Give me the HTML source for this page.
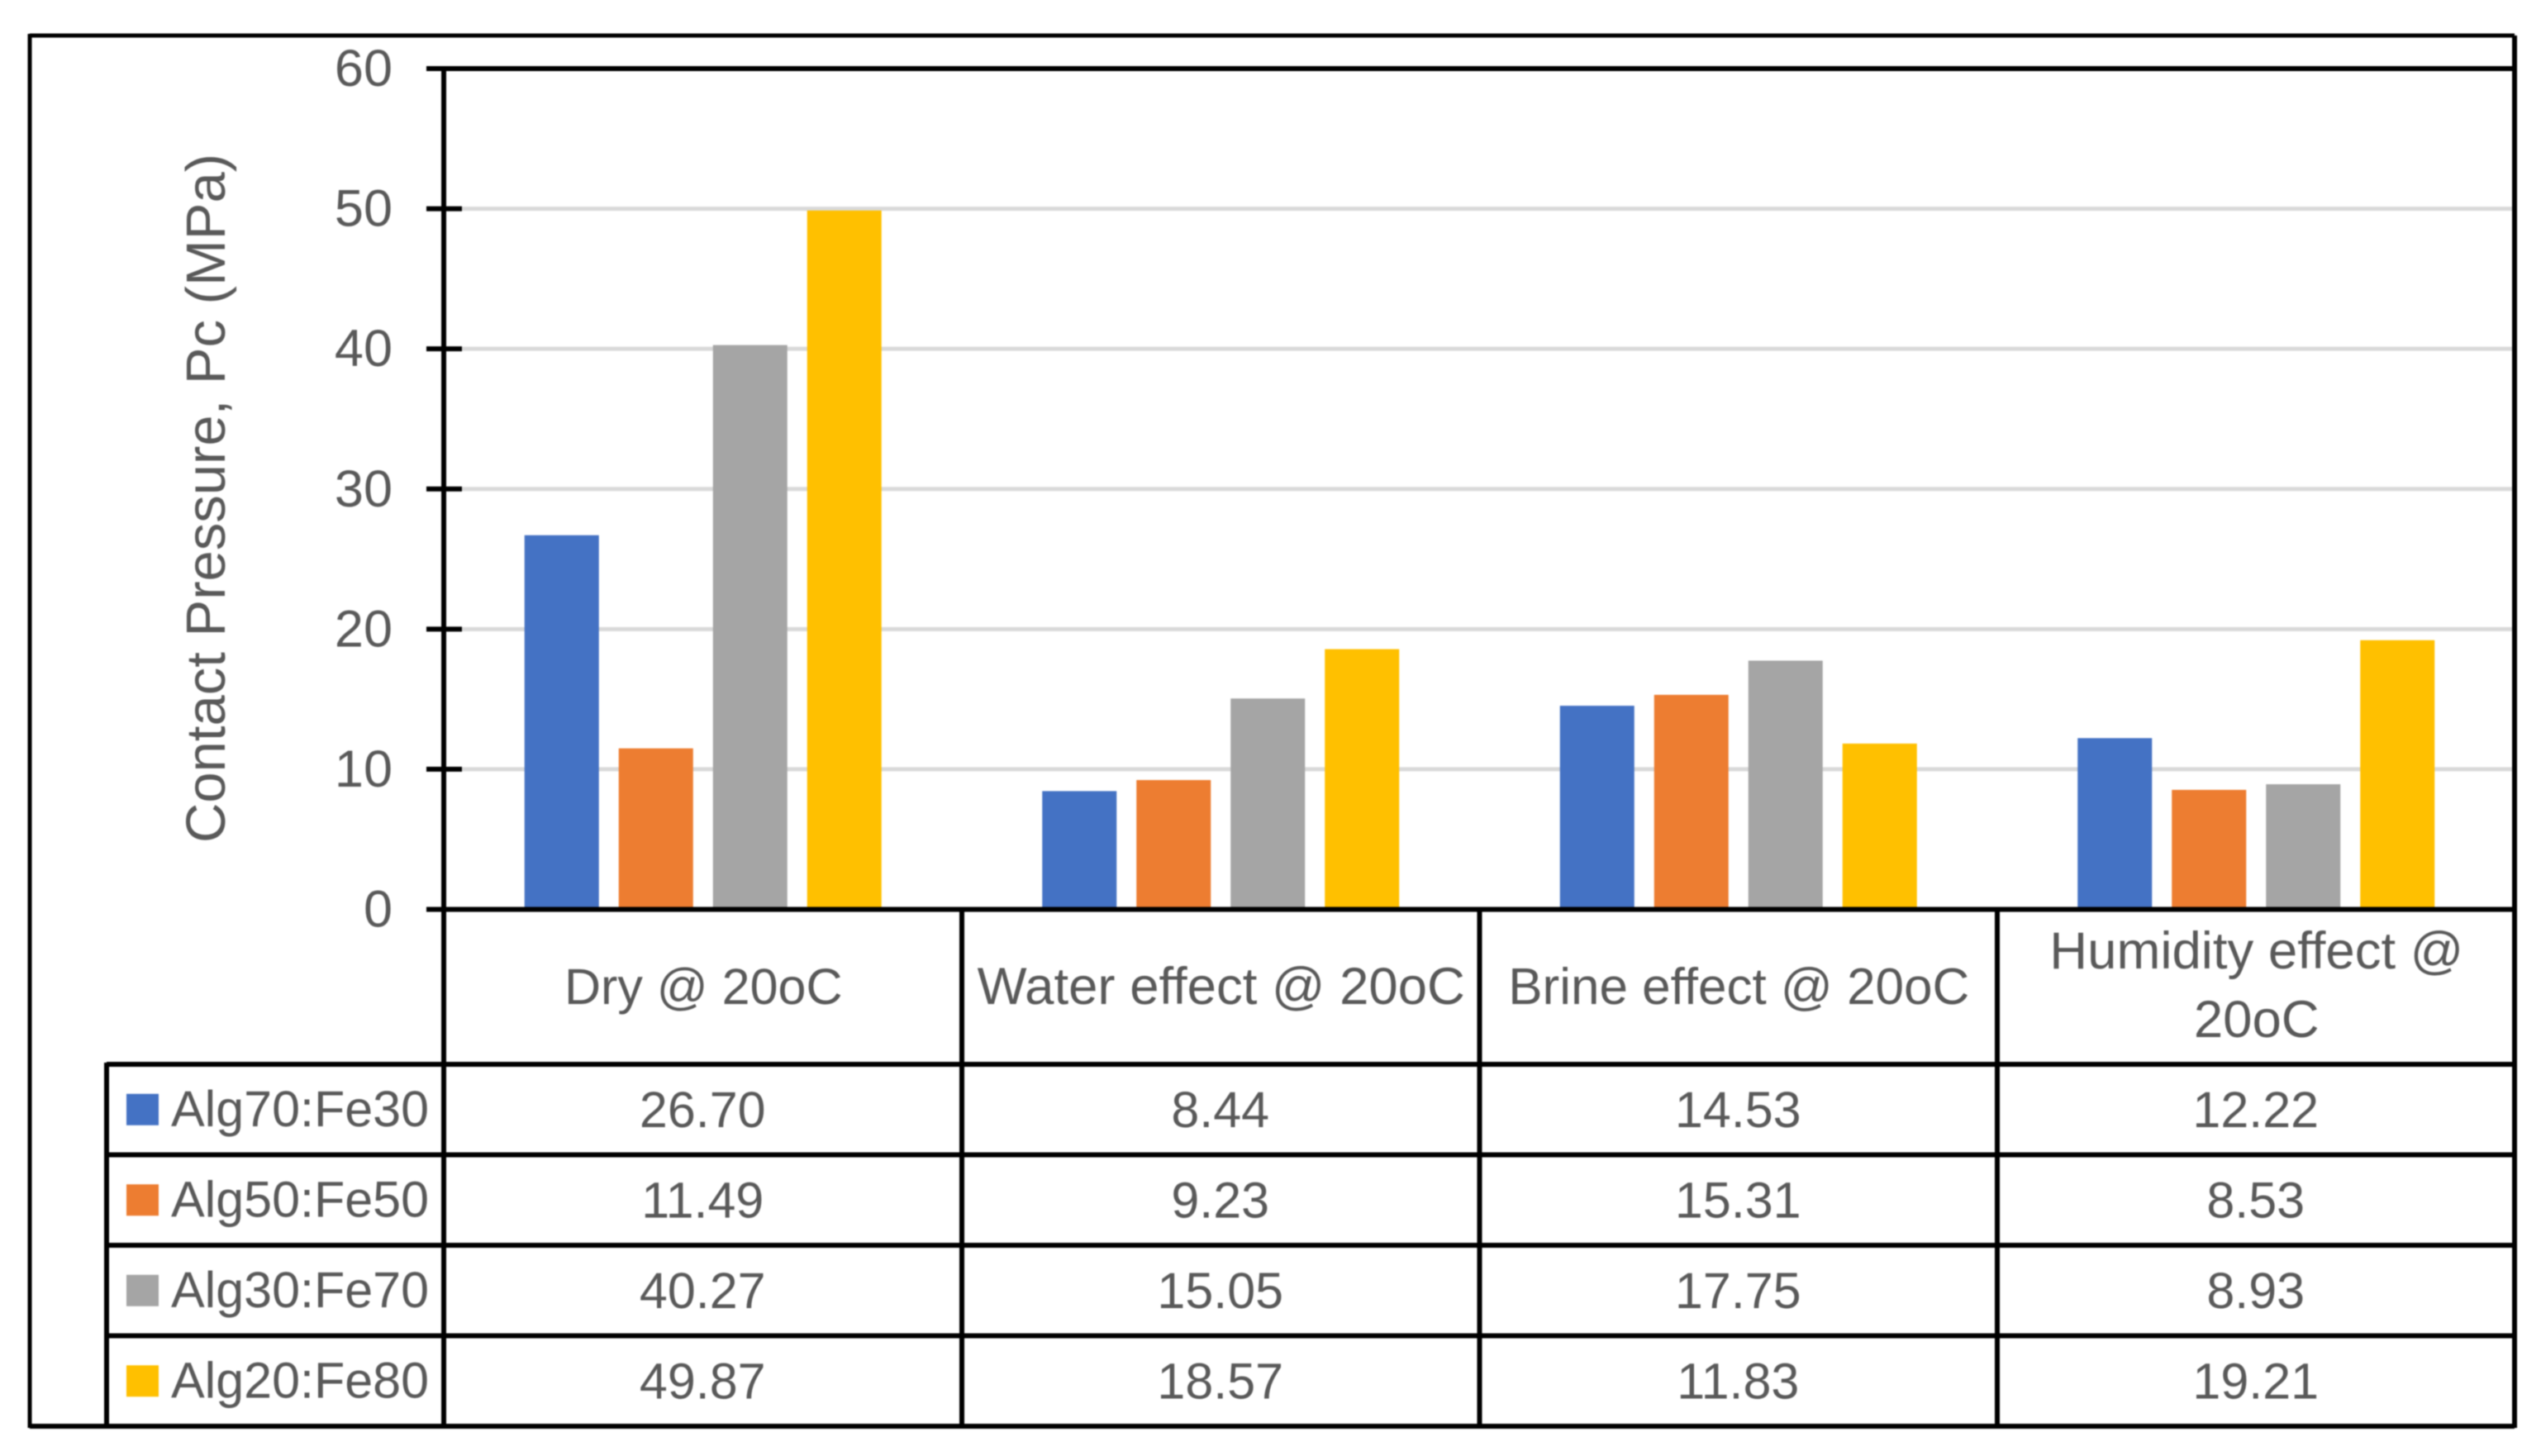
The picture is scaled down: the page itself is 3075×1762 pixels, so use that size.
<!DOCTYPE html>
<html>
<head>
<meta charset="utf-8">
<title>Contact Pressure chart</title>
<style>
html,body{margin:0;padding:0;background:#fff;}
svg{display:block;filter:blur(0.7px);}
text{font-family:"Liberation Sans",sans-serif;fill:#595959;}
</style>
</head>
<body>
<svg id="chart" xmlns="http://www.w3.org/2000/svg" width="3075" height="1762" viewBox="0 0 3075 1762"></svg>
<script>
const categories = [["Dry @ 20oC"], ["Water effect @ 20oC"], ["Brine effect @ 20oC"], ["Humidity effect @", "20oC"]];
const seriesNames = ["Alg70:Fe30", "Alg50:Fe50", "Alg30:Fe70", "Alg20:Fe80"];
const seriesColors = ["#4472c4", "#ed7d31", "#a5a5a5", "#ffc000"];
const alg70 = [26.70, 8.44, 14.53, 12.22];
const alg50 = [11.49, 9.23, 15.31, 8.53];
const alg30 = [40.27, 15.05, 17.75, 8.93];
const alg20 = [49.87, 18.57, 11.83, 19.21];
const yTicks = [0, 10, 20, 30, 40, 50, 60];
const yTitle = "Contact Pressure, Pc (MPa)";

const seriesValues = [alg70, alg50, alg30, alg20];
const svg = document.getElementById('chart');
const NS = 'http://www.w3.org/2000/svg';
const plotL = 537, plotR = 3043, plotT = 83, plotB = 1100.5;
const tableL = 129, frameL = 36, frameT = 43, frameB = 1726;
const rowTop = 1288, rowH = (frameB - rowTop) / seriesNames.length;
const catW = (plotR - plotL) / categories.length;
const barW = 90, barGap = 24;
const fontSize = 61;
const lineW = 6;

function y(v) { return plotB - (v / 60) * (plotB - plotT); }
function catX(i) { return plotL + i * catW; }
function barX(c, s) {
  const total = seriesNames.length * barW + (seriesNames.length - 1) * barGap;
  return catX(c) + (catW - total) / 2 + s * (barW + barGap) + 0.5;
}
function make(tag, attrs, parent) {
  const el = document.createElementNS(NS, tag);
  for (const k in attrs) el.setAttribute(k, attrs[k]);
  (parent || svg).appendChild(el);
  return el;
}
function line(x1, y1, x2, y2, stroke, w, name) {
  const el = make('line', { x1, y1, x2, y2, stroke, 'stroke-width': w });
  
  
  return el;
}
function label(str, x, yy, anchor, name, size) {
  const el = make('text', { x, y: yy, 'text-anchor': anchor, 'font-size': size || fontSize });
  el.textContent = str;
  
  
  return el;
}

/* gridlines */
yTicks.forEach(function (t) {
  if (t === 0 || t === 60) return;
  line(plotL, y(t), plotR, y(t), '#d9d9d9', 5, 'gridline-' + t);
});

/* bars */
seriesValues.forEach(function (vals, s) {
  vals.forEach(function (v, c) {
    const bar = make('rect', { x: barX(c, s), y: y(v), width: barW, height: plotB - y(v), fill: seriesColors[s] });
    
    
  });
});

/* y axis ticks and labels */
yTicks.forEach(function (t) {
  line(516, y(t), plotL + (t === 0 || t === 60 ? 0 : 22), y(t), '#000', lineW, 'y-tick-' + t);
  label(String(t), 475, y(t) + 21, 'end', 'y-tick-label-' + t, 63);
});

/* y axis title */
const title = label(yTitle, 0, 0, 'middle', 'y-axis-title', 67);
title.setAttribute('transform', 'translate(272 603) rotate(-90)');

/* frame */
line(frameL, frameT, 3043, frameT, '#000', 5, 'frame-top');
line(frameL, frameT - 2, frameL, frameB + 2, '#000', 5, 'frame-left');
line(frameL, frameB, plotR, frameB, '#000', lineW, 'frame-bottom');
line(plotR, frameT, plotR, frameB + 2, '#000', lineW, 'frame-right');

/* axes */
line(plotL - 21, plotT, plotR, plotT, '#000', lineW, 'plot-top-line');
line(plotL - 21, plotB, plotR, plotB, '#000', lineW, 'x-axis-line');
line(plotL, plotT, plotL, frameB, '#000', lineW, 'y-axis-line');

/* table: column dividers and row dividers */
categories.forEach(function (cat, i) {
  if (i > 0) line(catX(i) + 0.5, plotB, catX(i) + 0.5, frameB, '#000', lineW, 'table-column-divider-' + i);
});
line(tableL, rowTop - 2, tableL, frameB, '#000', lineW, 'table-left-border');
seriesNames.forEach(function (n, s) {
  line(tableL, rowTop + s * rowH, plotR, rowTop + s * rowH, '#000', lineW, 'table-row-divider-' + s);
});

/* category headers */
categories.forEach(function (cat, i) {
  const cx = catX(i) + catW / 2 + 1;
  const size = i === 0 ? 61 : (i === 2 ? 62 : 63.5);
  if (cat.length === 1) {
    label(cat[0], cx, 1215, 'middle', 'category-label-' + i, size);
  } else {
    cat.forEach(function (ln, j) {
      label(ln, cx, 1172 + j * 83, 'middle', 'category-label-' + i + '-line-' + j, size);
    });
  }
});

/* legend cells and values */
seriesNames.forEach(function (n, s) {
  const cy = rowTop + (s + 0.5) * rowH;
  const sw = make('rect', { x: 153, y: cy - 19, width: 39, height: 38, fill: seriesColors[s] });
  
  
  label(n, 207, cy + 20, 'start', 'legend-entry-' + s);
  seriesValues[s].forEach(function (v, c) {
    label(v.toFixed(2), catX(c) + catW / 2, cy + 21, 'middle', 'table-value-' + s + '-' + c);
  });
});
</script>
</body>
</html>
